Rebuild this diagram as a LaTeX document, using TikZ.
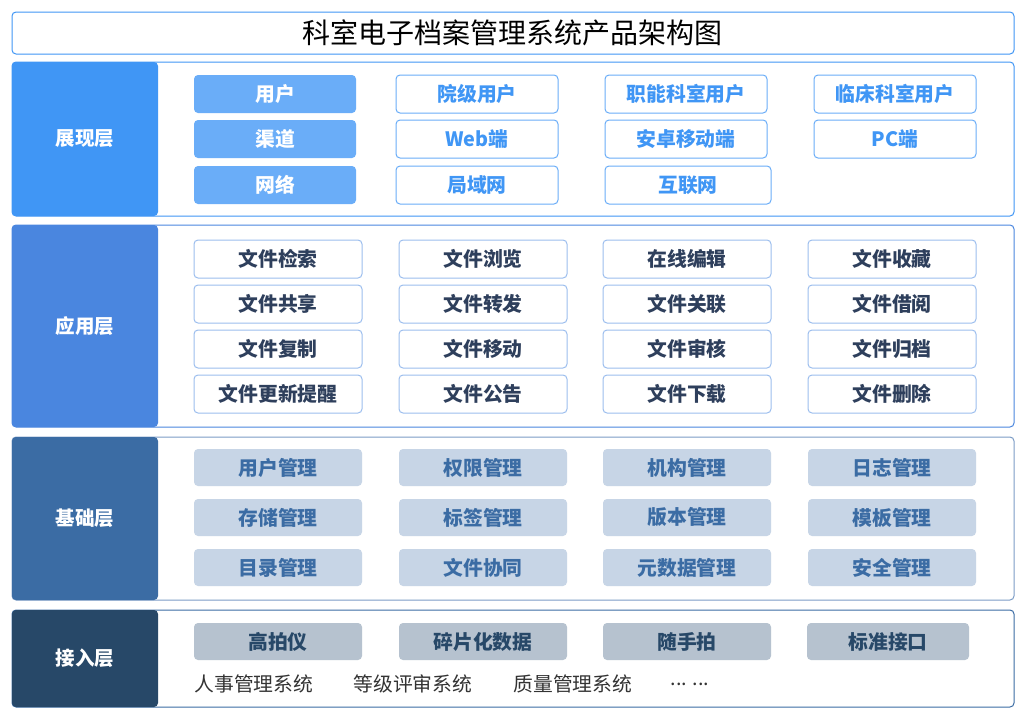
\documentclass[tikz,border=0pt]{standalone}
\usepackage{fontspec}
\setmainfont{Noto Sans CJK SC}
\usepackage{tikz}
\usetikzlibrary{positioning}

\definecolor{showblue}{HTML}{4096F5}
\definecolor{showlight}{HTML}{6AADF8}
\definecolor{appblue}{HTML}{4A86DF}
\definecolor{appline}{HTML}{9CBEEE}
\definecolor{apptext}{HTML}{2E3F5C}
\definecolor{baseblue}{HTML}{3B6CA4}
\definecolor{baseline}{HTML}{7C9CC6}
\definecolor{basefill}{HTML}{C7D5E6}
\definecolor{inblue}{HTML}{274868}
\definecolor{infill}{HTML}{B6C2CF}
\definecolor{graytext}{HTML}{333333}

\begin{document}
\begin{tikzpicture}
[x=1pt,y=-1pt,line width=1pt,
  title box/.style={draw=showblue,rounded corners=4pt,fill=white},
  layer box/.style={rounded corners=4pt,fill=white},
  layer label/.style={rounded corners=4pt,text=white,font=\bfseries\fontsize{19.5}{21}\selectfont,
    minimum width=146pt,inner sep=0pt},
  item/.style={rounded corners=4pt,inner sep=0pt,minimum height=38pt,
    font=\bfseries\fontsize{19.8}{21}\selectfont},
  show solid/.style={item,fill=showlight,text=white,minimum width=162pt},
  show line/.style={item,draw=showlight,text=showblue,minimum width=162pt},
  app item/.style={item,draw=appline,text=apptext,minimum width=168pt},
  base item/.style={item,fill=basefill,text=baseblue,minimum width=168pt,minimum height=37pt},
  in item/.style={item,fill=infill,text=inblue,minimum width=168pt,minimum height=37pt},
  plain text/.style={anchor=west,inner sep=0pt,text=graytext,font=\fontsize{19.8}{21}\selectfont}]

  \useasboundingbox (0,0) rectangle (1025,718);

  % title
  \draw [title box] (12,12) rectangle (1014,54);
  \node (title) at (512,33) {\fontsize{28}{32}\selectfont 科室电子档案管理系统产品架构图};

  % layer frames
  \draw [layer box,draw=showblue] (12,62) rectangle (1014,216);
  \draw [layer box,draw=appblue] (12,225) rectangle (1014,427);
  \draw [layer box,draw=baseline] (12,437) rectangle (1014,600);
  \draw [layer box,draw=baseblue] (12,610) rectangle (1014,707);

  % layer labels
  \node [layer label,fill=showblue,minimum height=154pt] (show) at (85,139) {展现层};
  \node [layer label,fill=appblue,minimum height=202pt] (app) at (85,326) {应用层};
  \node [layer label,fill=baseblue,minimum height=163pt] (base) at (85,518.5) {基础层};
  \node [layer label,fill=inblue,minimum height=97pt] (in) at (85,658.5) {接入层};

  % 展现层
  \foreach \name/\y [count=\i] in {用户/94,渠道/139,网络/185}
    \node [show solid] (show1\i) at (275,\y) {\name};
  \node [show line] (show21) at (477,94) {院级用户};
  \node [show line] (show22) at (477,139) {Web端};
  \node [show line] (show23) at (477,185) {局域网};
  \node [show line] (show31) at (686,94) {职能科室用户};
  \node [show line] (show32) at (686,139) {安卓移动端};
  \node [show line,minimum width=166pt] (show33) at (688,185) {互联网};
  \node [show line] (show41) at (895,94) {临床科室用户};
  \node [show line] (show42) at (895,139) {PC端};

  % 应用层
  \foreach \a/\b/\c/\d/\y [count=\i] in {文件检索/文件浏览/在线编辑/文件收藏/259,
      文件共享/文件转发/文件关联/文件借阅/304,
      文件复制/文件移动/文件审核/文件归档/349,
      文件更新提醒/文件公告/文件下载/文件删除/394}
  {
    \node [app item] (app1\i) at (278,\y) {\a};
    \node [app item] (app2\i) at (483,\y) {\b};
    \node [app item] (app3\i) at (687,\y) {\c};
    \node [app item] (app4\i) at (892,\y) {\d};
  }

  % 基础层
  \foreach \a/\b/\c/\d/\y [count=\i] in {用户管理/权限管理/机构管理/日志管理/467.5,
      存储管理/标签管理/版本管理/模板管理/517.5,
      目录管理/文件协同/元数据管理/安全管理/567.5}
  {
    \node [base item] (base1\i) at (278,\y) {\a};
    \node [base item] (base2\i) at (483,\y) {\b};
    \node [base item] (base3\i) at (687,\y) {\c};
    \node [base item] (base4\i) at (892,\y) {\d};
  }

  % 接入层
  \node [in item] (in1) at (278,641.5) {高拍仪};
  \node [in item] (in2) at (483,641.5) {碎片化数据};
  \node [in item] (in3) at (687,641.5) {随手拍};
  \node [in item,minimum width=162pt] (in4) at (888,641.5) {标准接口};
  \node [plain text] (sys1) at (194,684) {人事管理系统};
  \node [plain text] (sys2) at (353,684) {等级评审系统};
  \node [plain text] (sys3) at (513,684) {质量管理系统};
  \node [plain text] (sys4) at (670,684) {... ...};

\end{tikzpicture}
\end{document}
